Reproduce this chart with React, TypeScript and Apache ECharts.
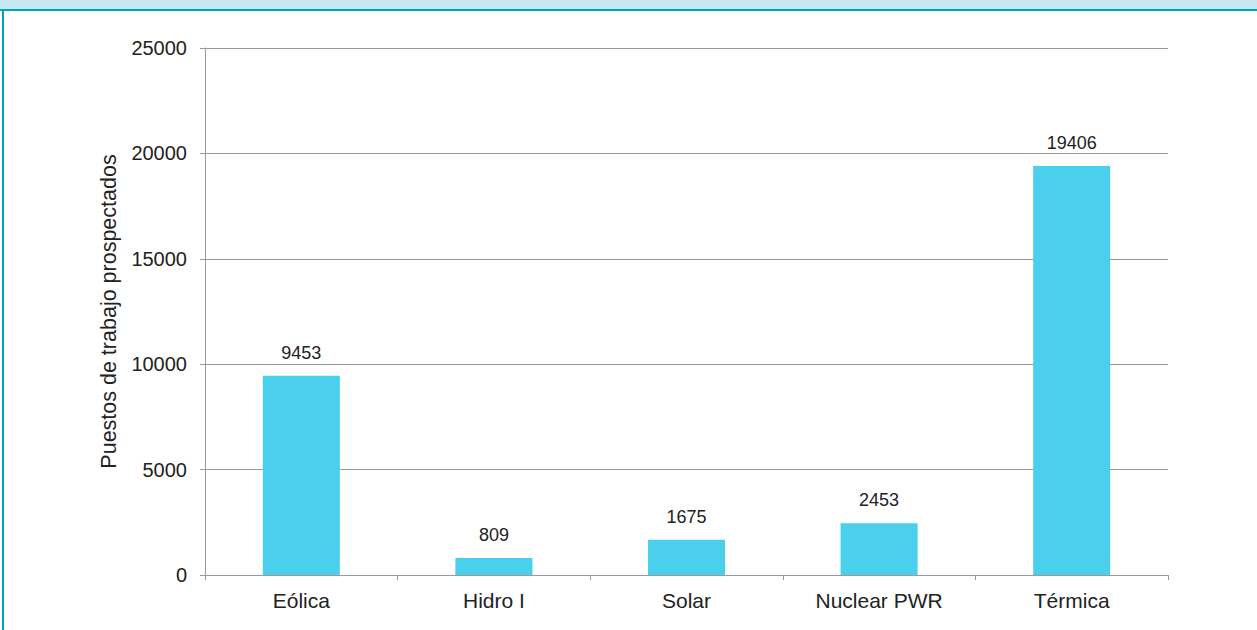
import React, { useEffect, useRef } from "react";
import * as echarts from "echarts";

const categories = ["Eólica", "Hidro I", "Solar", "Nuclear PWR", "Térmica"];
const values = [9453, 809, 1675, 2453, 19406];
const yAxisName = "Puestos de trabajo prospectados";

export default function App() {
  const ref = useRef<HTMLDivElement>(null);
  useEffect(() => {
    document.body.style.margin = "0";
    const chart = echarts.init(ref.current!, null, { renderer: "svg" });
    const font = "Liberation Sans, Arial, sans-serif";
    chart.setOption({
      animation: false,
      backgroundColor: "#ffffff",
      graphic: [
        { type: "rect", shape: { x: 0, y: 0, width: 1257, height: 9 }, style: { fill: "#c6e8f1" } },
        { type: "rect", shape: { x: 0, y: 9, width: 1257, height: 2 }, style: { fill: "#00a3c4" } },
        { type: "rect", shape: { x: 2, y: 9, width: 2, height: 621 }, style: { fill: "#00a3c4" } },
      ],
      grid: { left: 205, right: 89, top: 48, bottom: 55 },
      xAxis: {
        type: "category",
        data: categories,
        axisLine: { lineStyle: { color: "#9a9a9a", width: 1 } },
        axisTick: { show: true, length: 5, lineStyle: { color: "#9a9a9a" } },
        axisLabel: { color: "#222", fontSize: 21, fontFamily: font, margin: 15 },
      },
      yAxis: {
        type: "value",
        min: 0,
        max: 25000,
        interval: 5000,
        name: yAxisName,
        nameLocation: "middle",
        nameGap: 85,
        nameTextStyle: { color: "#222", fontSize: 21.5, fontFamily: font },
        axisLine: { show: true, lineStyle: { color: "#9a9a9a", width: 1 } },
        axisTick: { show: true, length: 5, lineStyle: { color: "#9a9a9a" } },
        axisLabel: {
          color: "#222",
          fontSize: 20,
          fontFamily: font,
          margin: 18,
          formatter: (v: number) => String(v),
        },
        splitLine: { lineStyle: { color: "#9a9a9a", width: 1 } },
      },
      series: [
        {
          type: "bar",
          data: values,
          barWidth: "40%",
          itemStyle: { color: "#4acfec" },
          label: {
            show: true,
            position: "top",
            distance: 14,
            color: "#222",
            fontSize: 18,
            fontFamily: font,
          },
        },
      ],
    });
    return () => chart.dispose();
  }, []);
  return <div ref={ref} style={{ width: 1257, height: 630 }} />;
}
